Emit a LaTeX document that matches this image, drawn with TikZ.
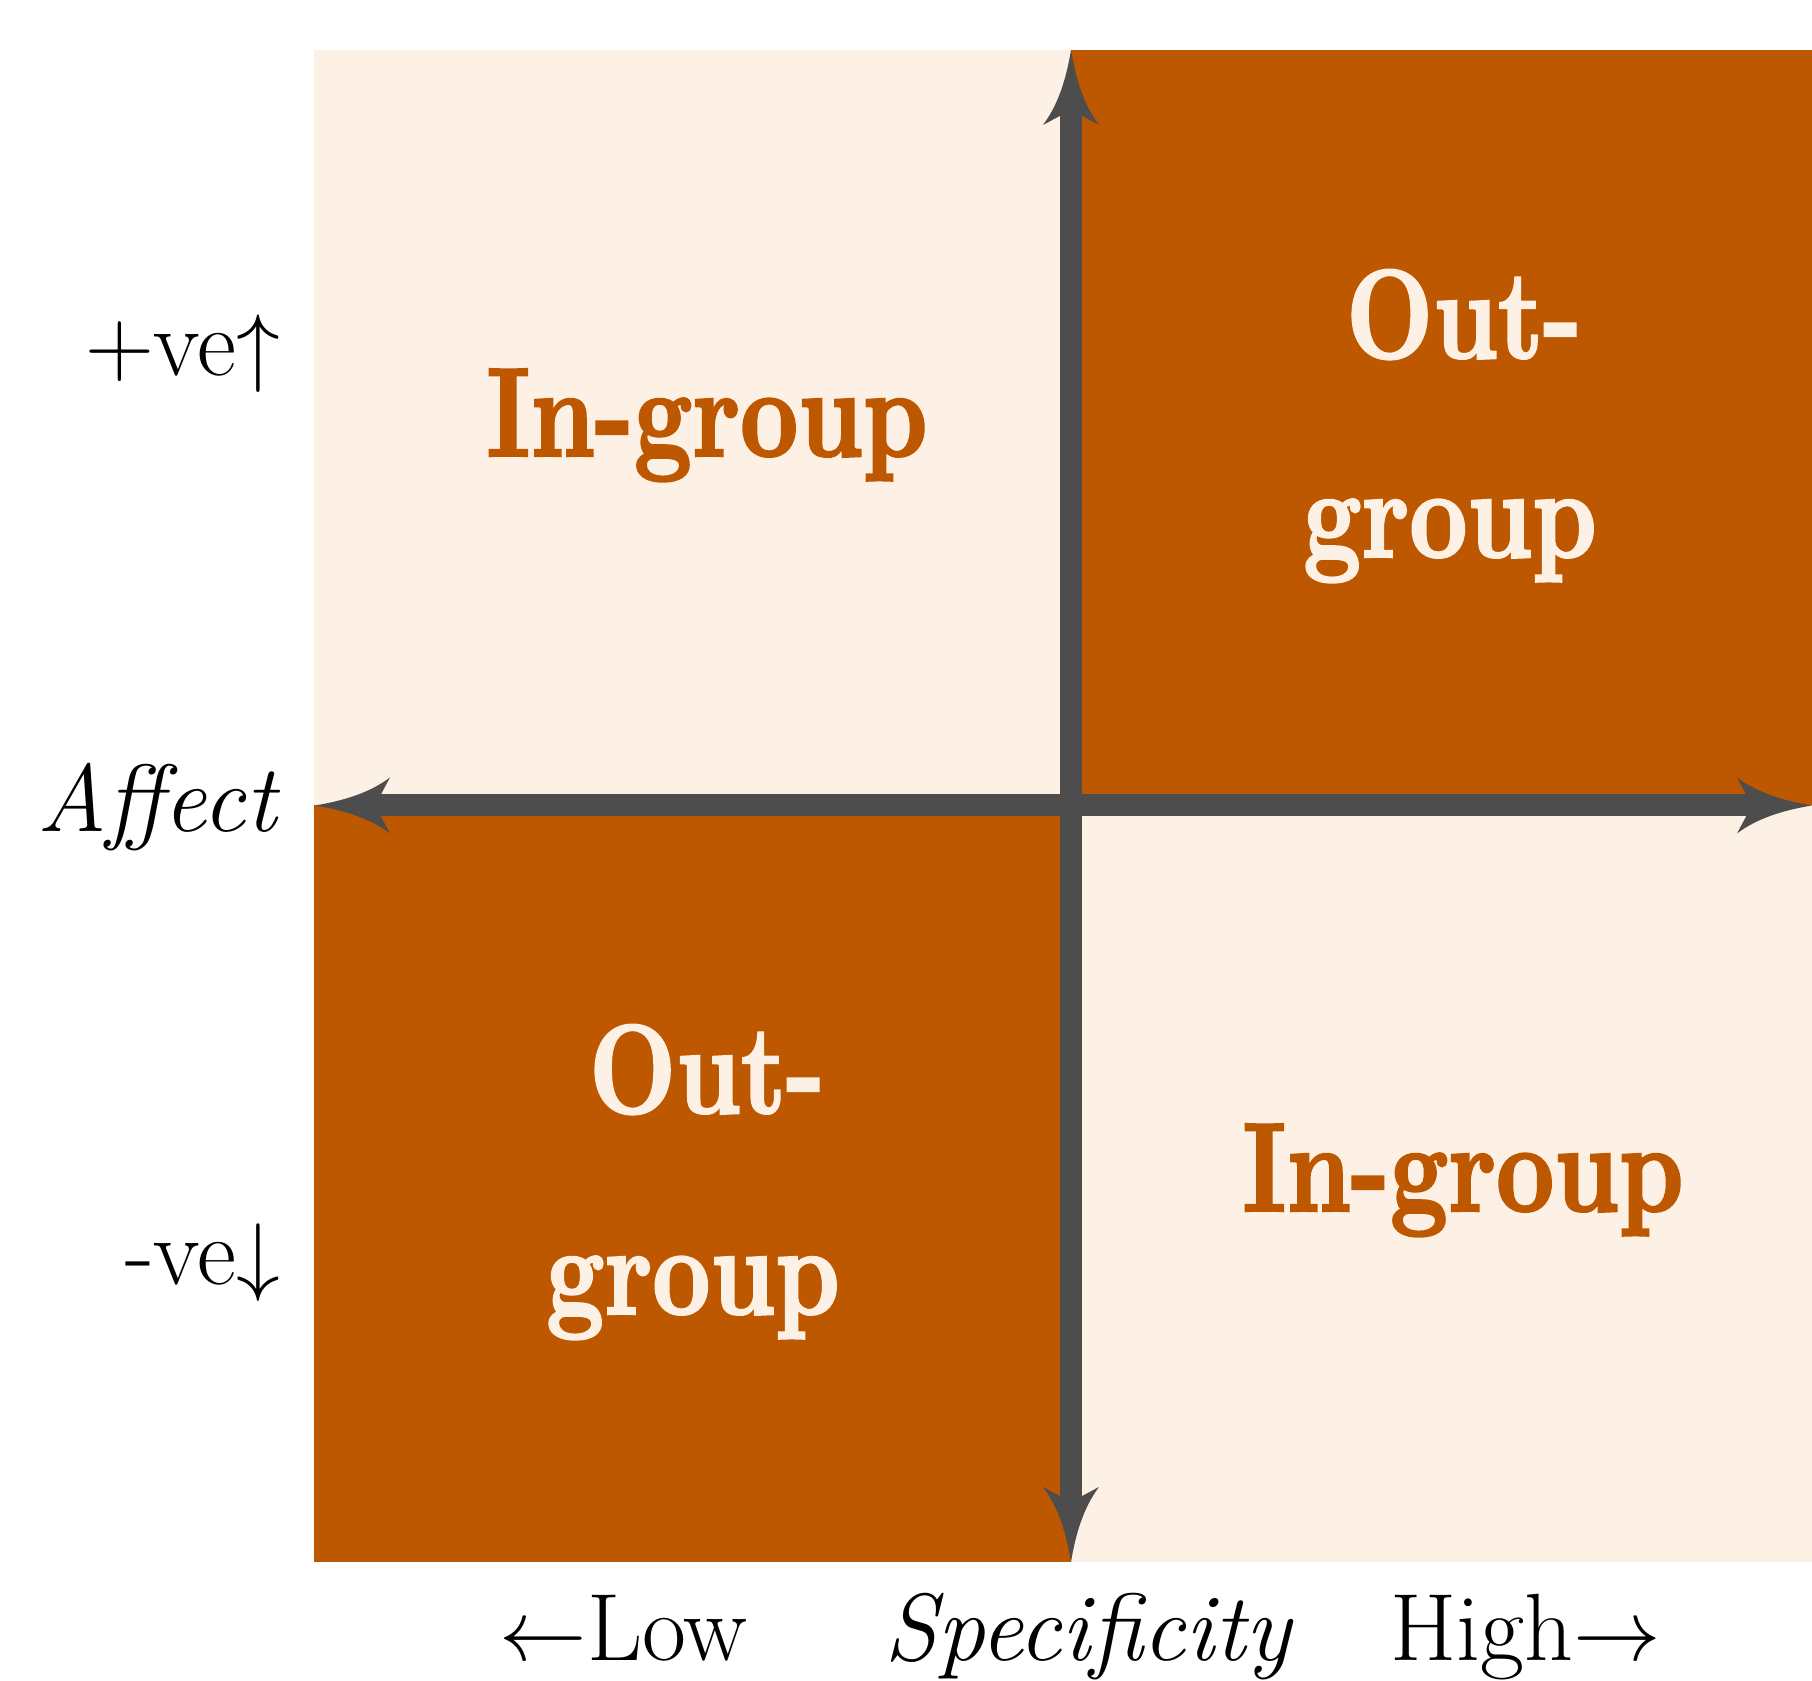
\documentclass[tikz,border=0pt]{standalone}
\usepackage{fontspec}
\usepackage{graphicx}
\newfontfamily\lmboldfam[Extension=.otf, FakeBold=2]{lmroman10-bold}
\definecolor{lightfill}{RGB}{253,240,228}
\definecolor{darkfill}{RGB}{189,87,0}
\definecolor{axisgray}{RGB}{77,77,77}
\tikzset{
  quadlight/.style={fill=lightfill, draw=none},
  quaddark/.style={fill=darkfill, draw=none},
  axisline/.style={draw=axisgray, line width=0.22cm},
  boldlab/.style={anchor=base, inner sep=0pt, font=\lmboldfam\fontsize{36}{40}\selectfont},
  sidelab/.style={inner sep=0pt, font=\fontsize{27.2}{32}\selectfont},
  tipshape/.pic={
    \fill[axisgray] (0,0) .. controls (0.3,0.05) and (0.55,0.13) .. (0.75,0.28)
      -- (0.6,0) -- (0.75,-0.28) .. controls (0.55,-0.13) and (0.3,-0.05) .. (0,0) -- cycle;
  }
}
\begin{document}
\begin{tikzpicture}
\useasboundingbox (0,0) rectangle (18.12,16.81);
% quadrants
\fill[quadlight] (3.14,8.755) rectangle (10.71,16.31);
\fill[quaddark] (10.71,8.755) rectangle (18.12,16.31);
\fill[quaddark] (3.14,1.19) rectangle (10.71,8.755);
\fill[quadlight] (10.71,1.19) rectangle (18.12,8.755);
% axes
\coordinate (L) at (3.15,8.755);
\coordinate (R) at (18.12,8.755);
\coordinate (T) at (10.71,16.31);
\coordinate (B) at (10.71,1.19);
\draw[axisline] ([xshift=0.6cm]L) -- ([xshift=-0.6cm]R);
\draw[axisline] ([yshift=-0.6cm]T) -- ([yshift=0.6cm]B);
\pic at (L) {tipshape};
\pic[rotate=180] at (R) {tipshape};
\pic[rotate=-90] at (T) {tipshape};
\pic[rotate=90] at (B) {tipshape};
% quadrant texts
\node[boldlab, text=darkfill] (tl) at (7.07,12.25) {\scalebox{0.8}[1]{In-group}};
\node[boldlab, text=lightfill] (tr1) at (14.64,13.23) {\scalebox{0.8}[1]{Out-}};
\node[boldlab, text=lightfill] (tr2) at (14.50,11.24) {\scalebox{0.8}[1]{group}};
\node[boldlab, text=lightfill] (bl1) at (7.07,5.68) {\scalebox{0.8}[1]{Out-}};
\node[boldlab, text=lightfill] (bl2) at (6.93,3.67) {\scalebox{0.8}[1]{group}};
\node[boldlab, text=darkfill] (br) at (14.63,4.70) {\scalebox{0.8}[1]{In-group}};
% side labels
\node[sidelab, anchor=base east] (pos) at (2.81,13.05) {+ve$\uparrow$};
\node[sidelab, anchor=base east] (aff) at (2.77,8.49) {\itshape Affect};
\node[sidelab, anchor=base east] (neg) at (2.81,3.96) {-ve$\downarrow$};
% bottom labels
\node[sidelab, anchor=base west] (low) at (4.99,0.2) {$\leftarrow$Low};
\node[sidelab, anchor=base west] (spec) at (8.84,0.2) {\itshape Specificity};
\node[sidelab, anchor=base west] (high) at (13.90,0.2) {High$\rightarrow$};
\end{tikzpicture}
\end{document}
